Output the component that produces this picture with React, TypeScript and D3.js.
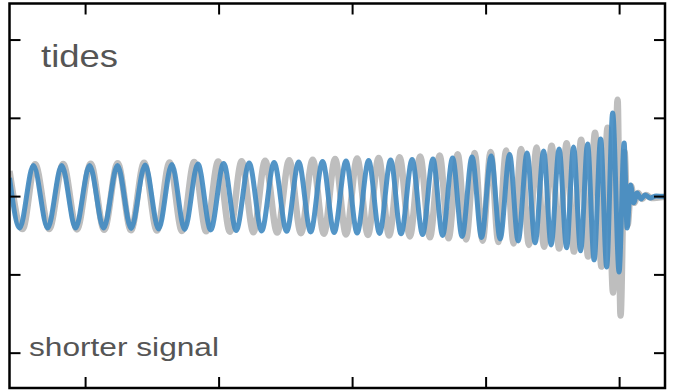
import React from "react";
import * as d3 from "d3";

// time axis (arbitrary units, merger near 0), strain axis (arbitrary units)
const xTicks = [-400, -300, -200, -100, 0];
const yTicks = [-2, -1, 0, 1, 2];
const xDomain = [-457, 34];
const yDomain = [-2.445, 2.467];

// "shorter signal" (with tides, blue) — extrema
const blueTimes = [
  -457, -449.4, -439.1, -428.4, -417.9, -407.5, -397.0, -386.5, -376.1, -365.9,
  -355.4, -345.3, -335.4, -325.8, -315.9, -306.3, -296.6, -287.2, -277.5, -268.1,
  -258.8, -249.4, -240.4, -231.4, -222.5, -213.8, -204.9, -196.6, -188.0, -179.8,
  -171.5, -163.7, -155.4, -147.6, -139.8, -132.6, -125.1, -118.0, -110.5, -103.4,
  -96.2, -89.5, -82.4, -76.0, -69.3, -63.3, -56.9, -51.3, -45.3, -39.7,
  -34.5, -29.2, -24.0, -19.1, -14.2, -9.7, -5.2, -0.4, 3.4, 5.6,
  8.2, 10.5, 13.1, 16.1, 19.1, 22.8, 27.3, 34.1,
];
const blueValues = [
  0.239, -0.4, 0.398, -0.4, 0.398, -0.4, 0.398, -0.4, 0.398, -0.406,
  0.405, -0.413, 0.411, -0.419, 0.418, -0.425, 0.424, -0.432, 0.43, -0.438,
  0.437, -0.444, 0.443, -0.451, 0.45, -0.457, 0.456, -0.464, 0.462, -0.47,
  0.469, -0.476, 0.475, -0.483, 0.481, -0.496, 0.494, -0.508, 0.507, -0.521,
  0.52, -0.54, 0.539, -0.566, 0.558, -0.591, 0.584, -0.617, 0.609, -0.654,
  0.635, -0.693, 0.673, -0.808, 0.737, -0.898, 1.069, -0.962, 0.686, -0.4,
  0.149, -0.08, 0.047, -0.029, 0.022, -0.017, 0.009, 0,
];

// longer signal (no tides, gray) — extrema
const grayTimes = [
  -457, -447.2, -437.8, -427.3, -416.8, -406.5, -396.2, -386.1, -376.0, -366.0,
  -356.2, -346.6, -337.1, -327.8, -318.7, -309.7, -300.7, -291.9, -283.1, -274.3,
  -265.5, -256.5, -247.5, -238.7, -229.9, -221.5, -213.1, -204.9, -196.6, -188.5,
  -180.5, -172.6, -164.8, -157.1, -149.4, -142.1, -134.8, -128.1, -121.3, -115.0,
  -108.6, -102.6, -96.6, -90.8, -85.0, -79.4, -73.8, -67.9, -62.2, -56.6,
  -50.9, -45.3, -39.7, -34.2, -28.8, -23.6, -18.4, -13.6, -9.0, -4.9,
  -1.5, 0.7, 3.7, 6.0, 8.6, 10.9, 13.9, 16.9, 19.8, 23.6, 34.1,
];
const grayValues = [
  0.328, -0.415, 0.415, -0.415, 0.418, -0.419, 0.421, -0.424, 0.427, -0.429,
  0.432, -0.434, 0.437, -0.439, 0.442, -0.444, 0.447, -0.45, 0.452, -0.455,
  0.457, -0.46, 0.464, -0.467, 0.471, -0.475, 0.479, -0.483, 0.487, -0.49,
  0.494, -0.498, 0.503, -0.508, 0.513, -0.52, 0.526, -0.533, 0.54, -0.548,
  0.556, -0.563, 0.571, -0.58, 0.589, -0.598, 0.607, -0.617, 0.627, -0.639,
  0.651, -0.664, 0.681, -0.702, 0.728, -0.766, 0.817, -0.894, 0.881, -1.226,
  1.239, -1.52, 0.571, -0.361, 0.137, -0.08, 0.047, -0.029, 0.022, -0.017, 0,
];

const labelTop = "tides";
const labelBottom = "shorter signal";

export default function App() {
  const W = 673;
  const H = 390;
  const left = 9.5, right = 665, top = 3.5, bottom = 388;
  const x = d3.scaleLinear().domain(xDomain).range([left, right]);
  const y = d3.scaleLinear().domain(yDomain).range([bottom, top]);

  const line = d3
    .line<[number, number]>()
    .x((d) => x(d[0]))
    .y((d) => y(d[1]))
    .curve(d3.curveMonotoneX);

  const blue = blueTimes.map((t, i) => [t, blueValues[i]] as [number, number]);
  const gray = grayTimes.map((t, i) => [t, grayValues[i]] as [number, number]);
  const tickLen = 11;

  return (
    <svg
      width={W}
      height={H}
      style={{ position: "absolute", left: 0, top: 0, background: "#fff" }}
    >
      <defs>
        <clipPath id="plotclip">
          <rect x={left} y={top} width={right - left} height={bottom - top} />
        </clipPath>
      </defs>
      <g clipPath="url(#plotclip)">
        <path d={line(gray) || ""} fill="none" stroke="#bebebe" strokeWidth={6.5} strokeLinejoin="round" />
        <path d={line(blue) || ""} fill="none" stroke="#4089c1" strokeOpacity={0.9} strokeWidth={5} strokeLinejoin="round" />
      </g>
      {xTicks.map((t) => (
        <g key={"x" + t} stroke="#000" strokeWidth={2}>
          <line x1={x(t)} x2={x(t)} y1={top} y2={top + tickLen} />
          <line x1={x(t)} x2={x(t)} y1={bottom} y2={bottom - tickLen} />
        </g>
      ))}
      {yTicks.map((t) => (
        <g key={"y" + t} stroke="#000" strokeWidth={2}>
          <line x1={left} x2={left + tickLen} y1={y(t)} y2={y(t)} />
          <line x1={right} x2={right - tickLen} y1={y(t)} y2={y(t)} />
        </g>
      ))}
      <rect x={left} y={top} width={right - left} height={bottom - top} fill="none" stroke="#000" strokeWidth={2.5} />
      <text x={41} y={67} fontFamily="Liberation Sans, Arial, sans-serif" fontSize={32} fill="#555" textLength={77} lengthAdjust="spacingAndGlyphs">
        {labelTop}
      </text>
      <text x={29} y={355.5} fontFamily="Liberation Sans, Arial, sans-serif" fontSize={25.5} fill="#555" textLength={190} lengthAdjust="spacingAndGlyphs">
        {labelBottom}
      </text>
    </svg>
  );
}
